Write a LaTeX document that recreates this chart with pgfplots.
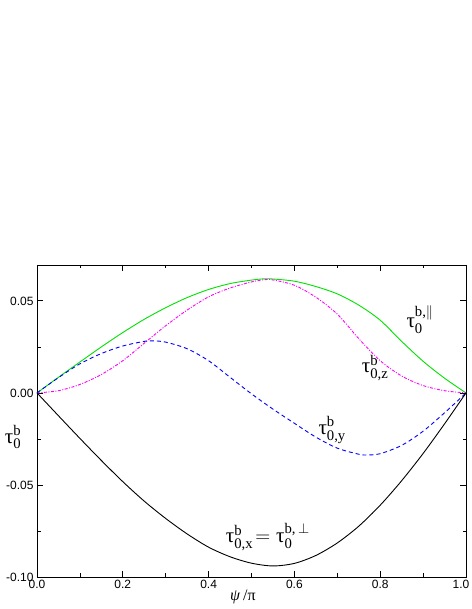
\documentclass[border=0pt]{standalone}
\usepackage{fontspec}
\setmainfont{Liberation Serif}
\newfontfamily\arial{Liberation Sans}
\usepackage{amsmath}
\usepackage{pgfplots}
\pgfplotsset{compat=1.18}

\definecolor{cgreen}{RGB}{0,225,0}
\definecolor{cmag}{RGB}{255,0,255}
\definecolor{cblue}{RGB}{0,0,255}

% tau labels, Times-like upright greek
\newcommand{\lbl}[1]{\fontsize{21}{25}\selectfont$#1$}

\begin{document}
\begin{tikzpicture}[x=1pt,y=1pt]
\useasboundingbox (0,0) rectangle (471,609);
\begin{axis}[
    at={(37pt,32pt)}, anchor=south west,
    scale only axis, width=429pt, height=312pt,
    xmin=0, xmax=1, ymin=-0.1, ymax=0.0695,
    clip=false,
    xtick={0,0.2,0.4,0.6,0.8,1},
    xticklabels={0.0,0.2,0.4,0.6,0.8,1.0\hspace*{10pt}},
    ytick={-0.1,-0.05,0,0.05},
    yticklabels={-0.10,-0.05,0.00,0.05},
    minor x tick num=1, minor y tick num=1,
    tick align=inside,
    major tick length=6pt, minor tick length=3.5pt,
    axis line style={line width=0.8pt},
    tick style={black, line width=0.8pt},
    ticklabel style={font=\arial\fontsize{12}{14}\selectfont},
]
% tau_0^{b,par}
\addplot[cgreen, line width=0.9pt, smooth] coordinates {
(0,0) (0.05,0.0085) (0.1,0.0168) (0.15,0.0250) (0.2,0.0328) (0.25,0.0400)
(0.3,0.0463) (0.35,0.0518) (0.4,0.0562) (0.45,0.0594) (0.5,0.0613) (0.53,0.0620)
(0.55,0.0619) (0.6,0.0607) (0.65,0.0578) (0.7,0.0538) (0.75,0.0477) (0.8,0.0395)
(0.85,0.0280) (0.9,0.0172) (0.95,0.0080) (1,0)};
% tau_{0,z}^b
\addplot[cmag, line width=0.9pt, smooth, dash pattern=on 3pt off 1.5pt on 1pt off 1.5pt] coordinates {
(0,0) (0.05,0.0012) (0.1,0.0046) (0.15,0.0100) (0.2,0.0175) (0.25,0.0270)
(0.3,0.0365) (0.35,0.0450) (0.4,0.0522) (0.45,0.0570) (0.5,0.0603) (0.53,0.0615)
(0.55,0.0614) (0.6,0.0585) (0.65,0.0520) (0.7,0.0428) (0.75,0.0295) (0.8,0.0175)
(0.85,0.0092) (0.9,0.0040) (0.95,0.0012) (1,0)};
% tau_{0,y}^b
\addplot[cblue, line width=0.9pt, smooth, dash pattern=on 4pt off 3pt] coordinates {
(0,0) (0.05,0.0083) (0.1,0.0158) (0.15,0.0214) (0.2,0.0255) (0.25,0.0280)
(0.27,0.0283) (0.3,0.0276) (0.35,0.0240) (0.4,0.0175) (0.45,0.0085) (0.5,-0.0005)
(0.55,-0.0088) (0.6,-0.0165) (0.65,-0.0240) (0.7,-0.0300) (0.75,-0.0333) (0.77,-0.0337)
(0.8,-0.0330) (0.85,-0.0285) (0.9,-0.0208) (0.95,-0.0108) (1,0)};
% tau_{0,x}^b = tau_0^{b,perp}
\addplot[black, line width=0.9pt, smooth] coordinates {
(0,0) (0.05,-0.0124) (0.1,-0.0247) (0.15,-0.0367) (0.2,-0.0482) (0.25,-0.0588)
(0.3,-0.0682) (0.35,-0.0766) (0.4,-0.0838) (0.45,-0.0890) (0.5,-0.0925) (0.55,-0.0940)
(0.6,-0.0926) (0.65,-0.0883) (0.7,-0.0815) (0.75,-0.0724) (0.8,-0.0610) (0.85,-0.0477)
(0.9,-0.0329) (0.95,-0.0168) (1,0)};

\node at (axis cs:0.893,0.0397) {\lbl{\text{τ}^{\text{b,}\|}_{\text{0}}}};
\node at (axis cs:0.788,0.0136) {\lbl{\text{τ}^{\text{b}}_{\text{0,z}}}};
\node at (axis cs:0.688,-0.0201) {\lbl{\text{τ}^{\text{b}}_{\text{0,y}}}};
\node at (axis cs:0.538,-0.0783) {\lbl{\text{τ}^{\text{b}}_{\text{0,x}}\!= \text{τ}^{\text{b,}\,\perp}_{\text{0}}}};
\node at (axis cs:-0.056,-0.024) {\lbl{\text{τ}^{\text{b}}_{\text{0}}}};
\node at (axis cs:0.48,-0.1) [yshift=-20pt] {\fontsize{16}{19}\selectfont\textit{ψ}\,/π};
\end{axis}
\end{tikzpicture}
\end{document}
